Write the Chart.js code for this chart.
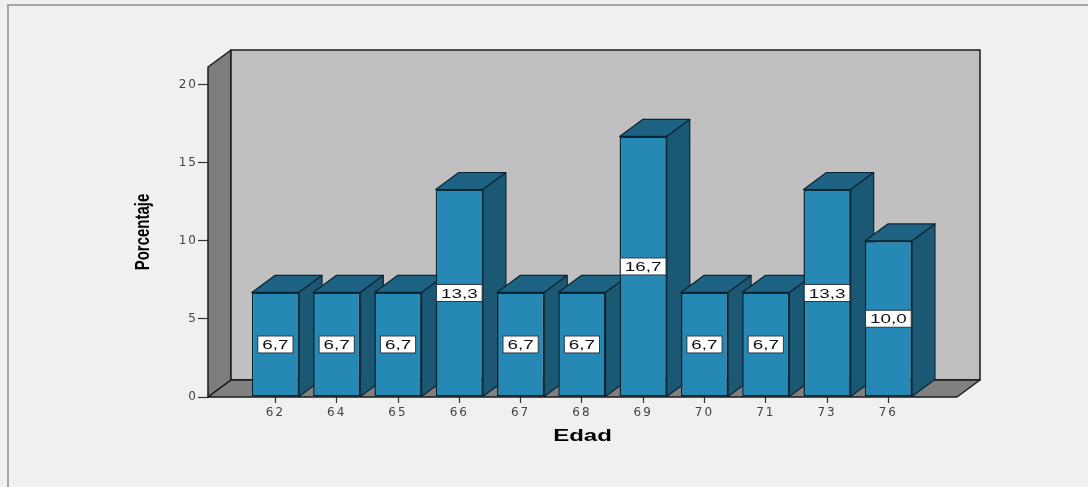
<!DOCTYPE html>
<html>
<head>
<meta charset="utf-8">
<title>Edad</title>
<script src="https://cdn.jsdelivr.net/npm/chart.js@4.4.1/dist/chart.umd.min.js"></script>
<style>
    html, body { margin: 0; padding: 0; background: #f0f0f0; }
    #contenedor { width: 1088px; height: 487px; }
</style>
</head>
<body>
<div id="contenedor"><canvas id="edadChart" width="1088" height="487"></canvas></div>
<script>
const edades = ['62', '64', '65', '66', '67', '68', '69', '70', '71', '73', '76'];
const porcentajes = [6.7, 6.7, 6.7, 13.3, 6.7, 6.7, 16.7, 6.7, 6.7, 13.3, 10.0];
const ticksY = [0, 5, 10, 15, 20];

// desplazamiento de la profundidad 3D
const PROF_X = 23;
const PROF_Y = 17;

const FUENTE = "'Liberation Sans', Arial, sans-serif";
const FUENTE_EJES = "'DejaVu Sans', 'Liberation Sans', sans-serif";
Chart.defaults.font.family = FUENTE;

function poligono(ctx, puntos, relleno, borde) {
    ctx.beginPath();
    ctx.moveTo(puntos[0][0], puntos[0][1]);
    for (let i = 1; i < puntos.length; i++) ctx.lineTo(puntos[i][0], puntos[i][1]);
    ctx.closePath();
    ctx.fillStyle = relleno;
    ctx.fill();
    ctx.strokeStyle = borde;
    ctx.stroke();
}

// texto ensanchado en horizontal
function textoAncho(ctx, texto, x, y, fuente, escala, color, rotar) {
    ctx.save();
    ctx.letterSpacing = '0px';
    ctx.font = fuente;
    ctx.fillStyle = color;
    ctx.textAlign = 'center';
    ctx.textBaseline = 'middle';
    ctx.translate(x, y);
    ctx.scale(escala, 1);
    if (rotar) ctx.rotate(-Math.PI / 2);
    ctx.fillText(texto, 0, 0);
    ctx.restore();
}

const caja3d = {
    id: 'caja3d',
    beforeDraw(chart) {
        const ctx = chart.ctx;
        ctx.save();
        ctx.fillStyle = '#f0f0f0';
        ctx.fillRect(0, 0, chart.width, chart.height);
        // marco exterior
        ctx.strokeStyle = '#a5a5a5';
        ctx.lineWidth = 2;
        ctx.beginPath();
        ctx.moveTo(8, chart.height);
        ctx.lineTo(8, 5);
        ctx.lineTo(chart.width, 5);
        ctx.stroke();
        ctx.restore();
        // las etiquetas de los ejes salen más anchas
        ctx.letterSpacing = '2px';
    },
    beforeDatasetsDraw(chart) {
        const ctx = chart.ctx;
        const { left, right, top, bottom } = chart.chartArea;
        ctx.save();
        ctx.lineWidth = 1.5;
        ctx.lineJoin = 'round';
        // paredes y piso
        poligono(ctx, [[left, top], [left + PROF_X, top - PROF_Y], [left + PROF_X, bottom - PROF_Y], [left, bottom]], '#7d7d7d', '#1a1a1a');
        poligono(ctx, [[left + PROF_X, top - PROF_Y], [right + PROF_X, top - PROF_Y], [right + PROF_X, bottom - PROF_Y], [left + PROF_X, bottom - PROF_Y]], '#c0c0c0', '#1a1a1a');
        poligono(ctx, [[left, bottom], [left + PROF_X, bottom - PROF_Y], [right + PROF_X, bottom - PROF_Y], [right, bottom]], '#808080', '#1a1a1a');

        // caras superior y lateral de cada barra
        ctx.lineWidth = 1.2;
        const meta = chart.getDatasetMeta(0);
        meta.data.forEach(barra => {
            const { x, y, base, width } = barra.getProps(['x', 'y', 'base', 'width'], true);
            const izq = x - width / 2, der = x + width / 2;
            poligono(ctx, [[izq, y], [izq + PROF_X, y - PROF_Y], [der + PROF_X, y - PROF_Y], [der, y]], '#1f6384', '#0b2633');
            poligono(ctx, [[der, y], [der + PROF_X, y - PROF_Y], [der + PROF_X, base - PROF_Y], [der, base]], '#1a5874', '#0b2633');
        });
        ctx.restore();
    },
    afterDatasetsDraw(chart) {
        const ctx = chart.ctx;
        const meta = chart.getDatasetMeta(0);
        meta.data.forEach((barra, i) => {
            const { x, y, base } = barra.getProps(['x', 'y', 'base'], true);
            const texto = porcentajes[i].toFixed(1).replace('.', ',');
            const cy = (y + base) / 2;
            ctx.save();
            ctx.letterSpacing = '0px';
            ctx.font = '13px ' + FUENTE;
            const ancho = ctx.measureText(texto).width * 1.45 + 9;
            const alto = 17;
            ctx.fillStyle = '#ffffff';
            ctx.fillRect(x - ancho / 2, cy - alto / 2, ancho, alto);
            ctx.strokeStyle = '#2b3a40';
            ctx.lineWidth = 1;
            ctx.strokeRect(x - ancho / 2, cy - alto / 2, ancho, alto);
            ctx.restore();
            textoAncho(ctx, texto, x, cy + 1, '13px ' + FUENTE, 1.45, '#111111', false);
        });

        const { left, right, top, bottom } = chart.chartArea;
        textoAncho(ctx, 'Porcentaje', 144, (top + bottom) / 2, 'bold 15px ' + FUENTE, 1.3, '#000000', true);
        textoAncho(ctx, 'Edad', (left + right) / 2, 437, 'bold 16px ' + FUENTE, 1.5, '#000000', false);
    }
};

const ctx = document.getElementById('edadChart').getContext('2d');
const chart = new Chart(ctx, {
    type: 'bar',
    data: {
        datasets: [{
            label: 'Porcentaje',
            data: porcentajes.map((v, i) => ({ x: i, y: v })),
            backgroundColor: '#2689b5',
            borderColor: '#0b2633',
            borderWidth: 1.5,
            borderSkipped: false,
            barPercentage: 0.77,
            categoryPercentage: 1
        }]
    },
    options: {
        responsive: false,
        animation: false,
        events: [],
        layout: { padding: { left: 0, top: 67, right: 131, bottom: 0 } },
        plugins: {
            legend: { display: false },
            tooltip: { enabled: false }
        },
        scales: {
            x: {
                type: 'linear',
                min: -1.1,
                max: 11.12,
                offset: false,
                afterBuildTicks: s => { s.ticks = edades.map((e, i) => ({ value: i })); },
                afterFit: s => { s.height = 90; },
                grid: { offset: false, drawOnChartArea: false, tickLength: 6, color: '#333333', tickWidth: 1.2 },
                border: { display: false },
                ticks: {
                    callback: v => edades[v],
                    color: '#444444',
                    font: { family: FUENTE_EJES, size: 12 },
                    padding: 3,
                    maxRotation: 0,
                    autoSkip: false
                }
            },
            y: {
                min: 0,
                max: 21.15,
                afterBuildTicks: s => { s.ticks = ticksY.map(v => ({ value: v })); },
                afterFit: s => { s.width = 208; },
                grid: { drawOnChartArea: false, tickLength: 10, color: '#333333', tickWidth: 1.2 },
                border: { display: false },
                ticks: { color: '#444444', font: { family: FUENTE_EJES, size: 12 }, padding: 0 }
            }
        }
    },
    plugins: [caja3d]
});
</script>
</body>
</html>
